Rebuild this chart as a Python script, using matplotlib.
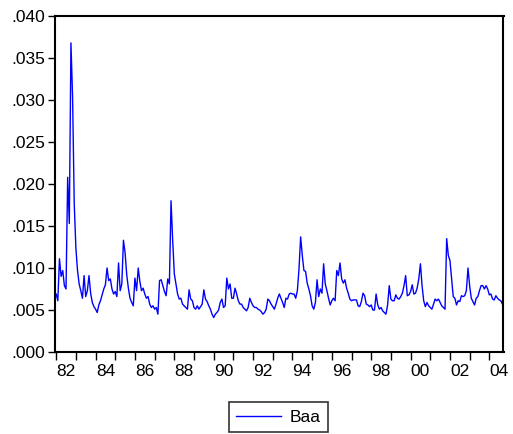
# Baa series, 1982:01 - 2004:09 (monthly values)
import numpy as np
import matplotlib
matplotlib.use('Agg')
from matplotlib import pyplot as plt
from matplotlib.ticker import FuncFormatter, FixedLocator

start_year = 1982
baa = [
    0.0069, 0.0061, 0.0111, 0.0090, 0.0097, 0.0079, 0.0075, 0.0208, 0.0153, 0.0368, 0.0303, 0.0177,
    0.0124, 0.0097, 0.0081, 0.0073, 0.0064, 0.0091, 0.0066, 0.0073, 0.0091, 0.0070, 0.0059, 0.0054,
    0.0051, 0.0047, 0.0056, 0.0061, 0.0068, 0.0075, 0.0080, 0.0100, 0.0085, 0.0087, 0.0075, 0.0069,
    0.0072, 0.0066, 0.0106, 0.0073, 0.0081, 0.0133, 0.0118, 0.0092, 0.0076, 0.0064, 0.0059, 0.0055,
    0.0088, 0.0073, 0.0100, 0.0084, 0.0073, 0.0076, 0.0069, 0.0064, 0.0066, 0.0057, 0.0053, 0.0055,
    0.0051, 0.0053, 0.0045, 0.0085, 0.0086, 0.0079, 0.0072, 0.0067, 0.0087, 0.0081, 0.0180, 0.0133,
    0.0093, 0.0081, 0.0069, 0.0063, 0.0064, 0.0057, 0.0055, 0.0053, 0.0051, 0.0074, 0.0063, 0.0061,
    0.0053, 0.0051, 0.0055, 0.0051, 0.0054, 0.0057, 0.0074, 0.0063, 0.0060, 0.0055, 0.0051, 0.0045,
    0.0041, 0.0045, 0.0047, 0.0050, 0.0059, 0.0063, 0.0053, 0.0055, 0.0088, 0.0075, 0.0081, 0.0064,
    0.0064, 0.0076, 0.0069, 0.0061, 0.0057, 0.0057, 0.0053, 0.0051, 0.0049, 0.0053, 0.0064, 0.0059,
    0.0055, 0.0053, 0.0053, 0.0051, 0.0050, 0.0048, 0.0045, 0.0047, 0.0051, 0.0063, 0.0061, 0.0057,
    0.0054, 0.0051, 0.0057, 0.0064, 0.0069, 0.0064, 0.0059, 0.0053, 0.0064, 0.0063, 0.0069, 0.0070,
    0.0069, 0.0069, 0.0064, 0.0073, 0.0099, 0.0137, 0.0115, 0.0097, 0.0096, 0.0082, 0.0075, 0.0067,
    0.0055, 0.0051, 0.0059, 0.0086, 0.0066, 0.0075, 0.0070, 0.0105, 0.0081, 0.0073, 0.0064, 0.0056,
    0.0061, 0.0064, 0.0061, 0.0097, 0.0091, 0.0106, 0.0087, 0.0082, 0.0086, 0.0076, 0.0070, 0.0063,
    0.0061, 0.0062, 0.0062, 0.0062, 0.0055, 0.0054, 0.0060, 0.0070, 0.0067, 0.0057, 0.0056, 0.0054,
    0.0056, 0.0050, 0.0050, 0.0069, 0.0056, 0.0051, 0.0053, 0.0049, 0.0047, 0.0045, 0.0056, 0.0079,
    0.0063, 0.0061, 0.0061, 0.0068, 0.0064, 0.0063, 0.0066, 0.0070, 0.0079, 0.0091, 0.0067, 0.0068,
    0.0072, 0.0080, 0.0069, 0.0070, 0.0076, 0.0087, 0.0105, 0.0079, 0.0061, 0.0054, 0.0059, 0.0055,
    0.0053, 0.0051, 0.0057, 0.0063, 0.0061, 0.0063, 0.0059, 0.0055, 0.0053, 0.0051, 0.0135, 0.0115,
    0.0109, 0.0087, 0.0066, 0.0064, 0.0056, 0.0061, 0.0060, 0.0067, 0.0066, 0.0067, 0.0073, 0.0100,
    0.0079, 0.0064, 0.0060, 0.0056, 0.0064, 0.0066, 0.0073, 0.0079, 0.0079, 0.0075, 0.0079, 0.0075,
    0.0068, 0.0069, 0.0063, 0.0062, 0.0067, 0.0064, 0.0062, 0.0061, 0.0057,
]
year_labels = ['82', '84', '86', '88', '90', '92', '94', '96', '98', '00', '02', '04']
y_ticks = [0.000, 0.005, 0.010, 0.015, 0.020, 0.025, 0.030, 0.035, 0.040]

t = start_year + np.arange(len(baa)) / 12.0

plt.rcParams['font.family'] = ['Liberation Sans', 'DejaVu Sans']
fig = plt.figure(figsize=(5.13, 4.34), dpi=100)
ax = fig.add_axes([55 / 513, 1 - 352 / 434, 448.5 / 513, 336 / 434])

line, = ax.plot(t, baa, color='#0000ff', lw=1.0, label='Baa')

ax.set_xlim(1981.94, 2004.72)
ax.set_ylim(0, 0.040)

# year ticks at boundaries, labels centred in the year
ax.xaxis.set_major_locator(FixedLocator(np.arange(1982, 2005)))
ax.xaxis.set_major_formatter(FuncFormatter(lambda v, p: ''))
label_pos = [1982.5 + 2 * i for i in range(len(year_labels))]
ax.xaxis.set_minor_locator(FixedLocator(label_pos))
ax.xaxis.set_minor_formatter(FuncFormatter(lambda v, p: year_labels[int(round((v - 1982.5) / 2))]))
ax.tick_params(axis='x', which='major', direction='out', length=6, width=1)
ax.tick_params(axis='x', which='minor', length=0, pad=9, labelsize=12.5)

ax.set_yticks(y_ticks)
ax.yaxis.set_major_formatter(FuncFormatter(lambda v, p: ('%.3f' % v).lstrip('0')))
ax.tick_params(axis='y', direction='out', length=5, width=1, labelsize=12.5, pad=2)

for s in ax.spines.values():
    s.set_linewidth(1.5)

leg = fig.legend(handles=[line], loc='center', bbox_to_anchor=(278.5 / 513, 1 - 417 / 434),
                 fancybox=False, edgecolor='black', fontsize=12.5, handlelength=2.6,
                 borderpad=0.4, handletextpad=0.5)
leg.get_frame().set_linewidth(1.2)

fig.savefig('out.png', dpi=100)
